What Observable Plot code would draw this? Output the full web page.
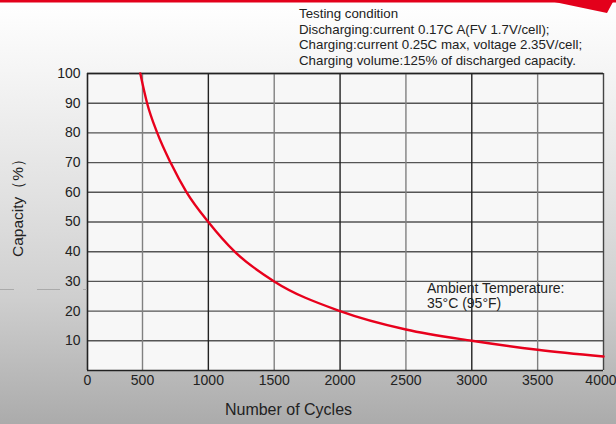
<!DOCTYPE html>
<html>
<head>
<meta charset="utf-8">
<script src="https://cdn.jsdelivr.net/npm/d3@7"></script>
<script src="https://cdn.jsdelivr.net/npm/@observablehq/plot@0.6"></script>
<style>
  html, body { margin: 0; padding: 0; }
  body {
    width: 616px; height: 424px; overflow: hidden; position: relative;
    background: linear-gradient(to bottom, #ffffff 0%, #f6f6f6 15%, #e2e2e2 45%, #cfcfcf 70%, #ababab 100%);
    font-family: "Liberation Sans", Arial, sans-serif;
  }
  #chart { position: absolute; left: 0; top: 0; }
  #cond {
    position: absolute; left: 299px; top: 6px; font-size: 13.3px; line-height: 15.7px;
    color: #222; white-space: nowrap;
  }
  #deco { position: absolute; left: 0; top: 0; }
</style>
</head>
<body>
<div id="chart"></div>
<div id="cond"></div>
<svg id="deco" width="616" height="424">
  <rect x="0" y="0" width="616" height="2.5" fill="#e3001b"></rect>
  <polygon points="545,0 614,0 607,13" fill="#e3001b"></polygon>
  <line x1="0" y1="289.5" x2="87" y2="289.5" stroke="#aaaaaa" stroke-width="1" stroke-dasharray="23 23" stroke-dashoffset="9"></line>
</svg>
<script>
// Data
const cycles   = [480, 535, 612, 713, 835, 1000, 1200, 1500, 2000, 2500, 3000, 3500, 4000];
const capacity = [100,  90,  80,  70,  60,   50,   40,   30,   20, 13.8,   10,    7,  4.7];
const xTicks = [0, 500, 1000, 1500, 2000, 2500, 3000, 3500];
const xLastTick = [4000];
const yTicks = [10, 20, 30, 40, 50, 60, 70, 80, 90, 100];
const conditionLines = [
  "Testing condition",
  "Discharging:current 0.17C A(FV 1.7V/cell);",
  "Charging:current 0.25C max, voltage 2.35V/cell;",
  "Charging volume:125% of discharged capacity."
];
const annotationLines = ["Ambient Temperature:", "35°C (95°F)"];
const annotationX = 2660;
const annotationY = [27.6, 22.6];
const xLabel = "Number of Cycles";
const yLabel = "Capacity（%）";

const data = cycles.map((c, i) => ({cycles: c, capacity: capacity[i]}));
const notes = annotationLines.map((t, i) => ({text: t, x: annotationX, y: annotationY[i]}));

document.getElementById("cond").innerHTML = conditionLines.map(s => `<div>${s}</div>`).join("");

const chart = Plot.plot({
  width: 616,
  height: 424,
  marginLeft: 87,
  marginRight: 13,
  marginTop: 73,
  marginBottom: 54,
  style: {background: "transparent", fontFamily: "'Liberation Sans', Arial, sans-serif", color: "#222"},
  x: {type: "linear", domain: [0, 500, 4000], range: [87, 142, 603]},
  y: {domain: [0, 100], range: [370, 73]},
  marks: [
    Plot.frame({fill: "#f7f7f7", stroke: null}),
    Plot.ruleY(yTicks, {stroke: "#555", strokeWidth: 1.4}),
    Plot.ruleX(xTicks.filter(d => d > 0), {stroke: d => d % 1000 === 0 ? "#222" : "#808080", strokeWidth: 1.4}),
    Plot.ruleX(xLastTick, {stroke: "#444", strokeWidth: 1.4}),
    Plot.ruleX([0], {stroke: "#222", strokeWidth: 1.6}),
    Plot.ruleY([0], {stroke: "#222", strokeWidth: 1.6}),
    Plot.ruleY([100], {stroke: "#222", strokeWidth: 1.4}),
    Plot.axisX(xTicks, {tickSize: 0, tickPadding: 5, fontSize: 14, label: null, fill: "#222", tickFormat: d => String(d), style: {letterSpacing: "1.8px"}}),
    Plot.text(xLastTick, {x: d => d, frameAnchor: "bottom", lineAnchor: "top", dy: 5, dx: 13, text: d => String(d), textAnchor: "end", fontSize: 14, fill: "#222", style: {letterSpacing: "1.2px"}}),
    Plot.axisY(yTicks, {tickSize: 0, tickPadding: 7, fontSize: 14, label: null, fill: "#222", tickFormat: d => String(d)}),
    Plot.line(data, {x: "cycles", y: "capacity", stroke: "#e8001c", strokeWidth: 2.4, curve: "monotone-x"}),
    Plot.text(notes, {x: "x", y: "y", text: "text", textAnchor: "start", fontSize: 14, fill: "#222", style: {letterSpacing: "0.6px"}}),
    Plot.text([xLabel], {frameAnchor: "bottom-left", dx: 201, dy: 44, text: d => d, fontSize: 16, fill: "#222", textAnchor: "middle"}),
    Plot.text([yLabel], {frameAnchor: "left", dx: -69, dy: -18, rotate: -90, text: d => d, fontSize: 15.5, fill: "#222", textAnchor: "middle"})
  ]
});
document.getElementById("chart").appendChild(chart);
</script>
</body>
</html>
